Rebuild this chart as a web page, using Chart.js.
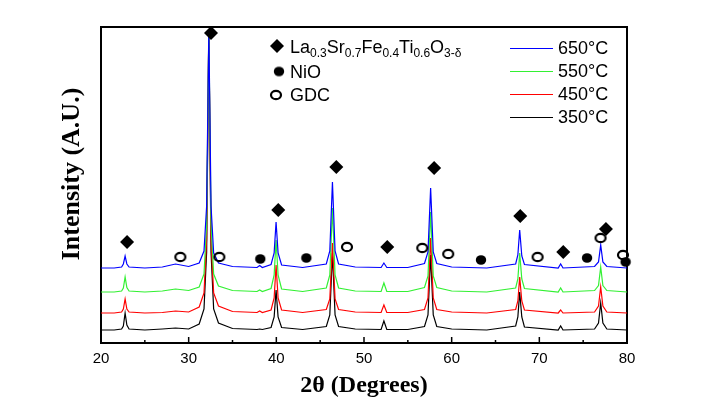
<!DOCTYPE html>
<html lang="en">
<head>
<meta charset="UTF-8">
<title>XRD patterns</title>
<script src="https://cdn.jsdelivr.net/npm/chart.js@4.4.1/dist/chart.umd.min.js"></script>
<style>
  body { margin: 0; background: #fff; }
</style>
</head>
<body>
<canvas id="xrd" width="716" height="416"></canvas>
<script>
// 2theta sample positions (degrees), shared by the four patterns
const twoTheta = [20.0, 21.5, 22.35, 22.55, 22.75, 22.95, 23.2, 25.0, 27.0, 28.5,
  30.0, 31.2, 31.75, 32.05, 32.3, 32.55, 32.85, 33.4, 35.0, 37.8,
  38.1, 38.4, 39.4, 39.75, 39.97, 40.2, 40.6, 43.0, 45.7, 46.1,
  46.4, 46.7, 47.1, 49.0, 51.95, 52.27, 52.6, 55.0, 56.9, 57.3,
  57.6, 57.9, 58.3, 60.0, 64.0, 67.3, 67.55, 67.76, 68.0, 68.3,
  72.15, 72.43, 72.7, 76.3, 76.75, 77.0, 77.25, 77.7, 80.0];

// intensities (arbitrary units)
const i650 = [75, 75, 76, 79, 87, 79, 76, 75, 76, 79,
  76.5, 80, 92, 137, 314, 137, 90, 80, 76.5, 75.5,
  77.5, 75.5, 78.5, 90, 121, 90, 78, 75.5, 79, 92,
  161, 92, 79, 76, 75.5, 80, 75.5, 75.5, 79.5, 91,
  155, 91, 79.5, 76, 75, 79, 88, 113, 87, 78.5,
  75, 79, 75, 76.5, 81, 98, 81, 76.5, 75];
const i550 = [51, 51, 52, 55, 66, 55.5, 52, 51, 52, 54,
  52.5, 56, 69, 119, 314, 119, 69, 57, 52.5, 51.5,
  53, 51.5, 54.5, 68, 103, 68, 54, 51.5, 55, 68,
  135, 68, 55, 52, 51.5, 60, 51.5, 51.5, 55.5, 67,
  131, 67, 55.5, 52, 51, 55, 64, 90, 64, 54.5,
  51, 55, 51, 52.5, 57.5, 76, 57.5, 52.5, 51];
const i450 = [30, 30, 31, 34, 44, 34, 31, 30, 30.5, 32,
  31, 36, 50, 104, 314, 104, 50, 37, 31.5, 30.5,
  32, 30.5, 33, 45, 78, 45, 33, 30.5, 33.5, 44,
  100, 44, 33.5, 31, 30.5, 38, 30.5, 30.5, 33.5, 45,
  105, 45, 33.5, 31, 30, 33.5, 42, 66, 42, 33,
  30, 33, 30, 31, 37, 56, 37, 31, 30];
const i350 = [13, 13, 14, 17, 30, 18, 14, 13, 14, 15,
  14, 19, 34, 91, 314, 91, 34, 20, 14.5, 13.5,
  14, 13.5, 15.5, 26, 53, 26, 15.5, 13.5, 16.5, 28,
  90, 28, 16.5, 14, 13.5, 22, 13.5, 13.5, 16.5, 28,
  88, 28, 16.5, 14, 13, 17, 26, 51, 26, 16,
  13, 17, 13, 14, 20, 40, 20, 14, 13];

const seriesNames = ['650°C', '550°C', '450°C', '350°C'];
const seriesColors = ['#0000ff', '#33f033', '#ff0000', '#000000'];

// phase marks: position (degrees) and height
const lsftX = [22.97, 32.55, 40.22, 46.84, 52.65, 58.0, 67.82, 72.73, 77.6];
const lsftY = [101, 310, 133, 176, 96, 175, 127, 91, 114];
const nioX = [38.17, 43.42, 63.34, 75.44, 79.84];
const nioY = [84, 85, 83, 85, 81];
const gdcX = [29.05, 33.5, 48.06, 56.65, 59.61, 69.8, 76.98, 79.54];
const gdcY = [86, 86, 96, 95, 89, 86, 105, 88];

const xTickMarks = [25, 30, 35, 40, 45, 50, 55, 60, 65, 70, 75];

function pts(xs, ys) { return xs.map((v, i) => ({x: v, y: ys[i]})); }

// small ellipse sprites (the marks in the figure are a bit wider than tall)
function ellipseSprite(filled) {
  const c = document.createElement('canvas');
  c.width = 14; c.height = 12;
  const g = c.getContext('2d');
  g.beginPath();
  g.ellipse(7, 6, filled ? 5.2 : 5, filled ? 4.8 : 4.2, 0, 0, Math.PI * 2);
  if (filled) { g.fillStyle = '#000'; g.fill(); }
  else { g.lineWidth = 2.2; g.strokeStyle = '#000'; g.stroke(); }
  return c;
}
const dotSprite = ellipseSprite(true);
const ringSprite = ellipseSprite(false);

function drawDiamond(ctx, x, y, r) {
  ctx.beginPath();
  ctx.moveTo(x - r, y); ctx.lineTo(x, y - r); ctx.lineTo(x + r, y); ctx.lineTo(x, y + r);
  ctx.closePath(); ctx.fill();
}

function drawRich(ctx, parts, x, y) {
  parts.forEach(([txt, sub]) => {
    ctx.font = sub ? '12px "Liberation Sans", Arial, sans-serif' : '18px "Liberation Sans", Arial, sans-serif';
    ctx.fillText(txt, x, sub ? y + 4 : y);
    x += ctx.measureText(txt).width;
  });
}

const framePlugin = {
  id: 'frame',
  beforeDatasetsDraw(chart) {
    const {ctx, chartArea: a, scales: {x}} = chart;
    ctx.save();
    ctx.strokeStyle = '#000';
    ctx.lineWidth = 2;
    ctx.strokeRect(a.left, a.top, a.right - a.left, a.bottom - a.top);
    ctx.lineWidth = 1.5;
    xTickMarks.forEach(v => {
      const px = x.getPixelForValue(v);
      const len = v % 10 === 0 ? 6 : 3;
      ctx.beginPath(); ctx.moveTo(px, a.bottom); ctx.lineTo(px, a.bottom - len); ctx.stroke();
    });
    // y axis title, sits a little above the middle of the frame
    ctx.translate(72, 174);
    ctx.rotate(-Math.PI / 2);
    ctx.fillStyle = '#000';
    ctx.textAlign = 'center';
    ctx.textBaseline = 'middle';
    ctx.font = 'bold 26px "Liberation Serif", "Times New Roman", serif';
    ctx.fillText('Intensity (A.U.)', 0, 0);
    ctx.restore();
  }
};

const keyPlugin = {
  id: 'keys',
  afterDraw(chart) {
    const ctx = chart.ctx;
    ctx.save();
    ctx.fillStyle = '#000';
    ctx.textBaseline = 'alphabetic';
    // phase key
    drawDiamond(ctx, 277, 46, 7);
    drawRich(ctx, [['La'], ['0.3', 1], ['Sr'], ['0.7', 1], ['Fe'], ['0.4', 1], ['Ti'], ['0.6', 1], ['O'], ['3-δ', 1]], 290, 53);
    ctx.drawImage(dotSprite, 279 - 7, 71.5 - 6);
    drawRich(ctx, [['NiO']], 290, 77.5);
    ctx.drawImage(ringSprite, 276 - 7, 95 - 6);
    drawRich(ctx, [['GDC']], 290, 101);
    // temperature key
    ctx.textBaseline = 'middle';
    ctx.font = '18px "Liberation Sans", Arial, sans-serif';
    seriesNames.forEach((name, i) => {
      const y = 48.5 + i * 23;
      ctx.strokeStyle = seriesColors[i];
      ctx.lineWidth = 1.2;
      ctx.beginPath(); ctx.moveTo(510, y); ctx.lineTo(553, y); ctx.stroke();
      ctx.fillText(name, 558, y + 1);
    });
    ctx.restore();
  }
};

const series = [i650, i550, i450, i350];

const datasets = [
  {data: pts(lsftX, lsftY), showLine: false, pointStyle: 'rectRot', pointRadius: 7,
   backgroundColor: '#000', borderColor: '#000', borderWidth: 0, clip: false},
  {data: pts(nioX, nioY), showLine: false, pointStyle: dotSprite, clip: false},
  {data: pts(gdcX, gdcY), showLine: false, pointStyle: ringSprite, clip: false}
];
series.forEach((vals, i) => {
  datasets.push({
    label: seriesNames[i],
    data: pts(twoTheta, vals),
    borderColor: seriesColors[i],
    borderWidth: 1.2,
    pointRadius: 0,
    tension: 0
  });
});

new Chart(document.getElementById('xrd'), {
  type: 'line',
  data: {datasets: datasets},
  options: {
    responsive: false,
    animation: false,
    devicePixelRatio: 1,
    layout: {padding: {top: 27, right: 89, left: 0, bottom: 0}},
    plugins: {legend: {display: false}, tooltip: {enabled: false}},
    scales: {
      x: {
        type: 'linear', min: 20, max: 80,
        grid: {display: false, drawTicks: false},
        border: {display: false},
        ticks: {stepSize: 10, padding: 7, color: '#000',
                font: {family: '"Liberation Sans", Arial, sans-serif', size: 15}},
        title: {display: true, text: '2θ (Degrees)', color: '#000',
                font: {family: '"Liberation Serif", "Times New Roman", serif', size: 24, weight: 'bold'},
                padding: {top: 0, bottom: 16}},
        afterFit(s) { s.height = 73; }
      },
      y: {
        min: 0, max: 316,
        grid: {display: false, drawTicks: false},
        border: {display: false},
        ticks: {display: false},
        afterFit(s) { s.width = 101; }
      }
    }
  },
  plugins: [framePlugin, keyPlugin]
});
</script>
</body>
</html>
